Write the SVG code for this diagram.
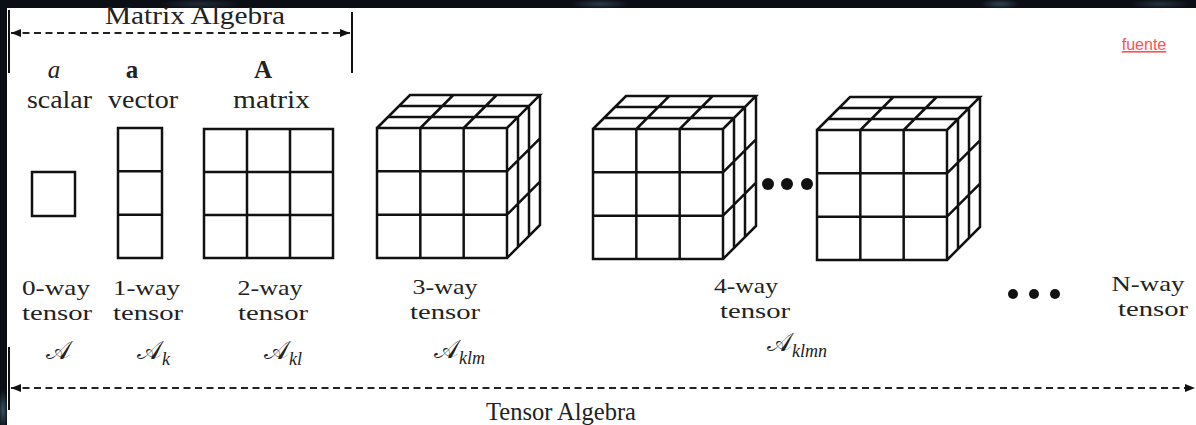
<svg xmlns="http://www.w3.org/2000/svg" width="1196" height="425" viewBox="0 0 1196 425">
<style>
.t{font-family:"Liberation Serif","Times New Roman",serif;font-size:25px;fill:#222;text-anchor:middle}
.w{font-size:21.5px}
.cal{font-family:"DejaVu Serif","DejaVu Sans","Noto Sans",serif;font-size:26px;fill:#222}
.sub{font-family:"Liberation Serif",serif;font-style:italic;font-size:18px;fill:#222}
.cube{fill:#fff;stroke:#111;stroke-width:2.5;stroke-linejoin:miter}
.cell{fill:#fff;stroke:#111;stroke-width:2.5}
.dash{stroke:#222;stroke-width:2;stroke-dasharray:7 4.5;fill:none}
.bar{stroke:#111;stroke-width:2}
.dot{fill:#111}
</style>
<defs>
<marker id="ah" viewBox="0 0 10 8" refX="10" refY="4" markerWidth="11" markerHeight="8" markerUnits="userSpaceOnUse" orient="auto-start-reverse">
<path d="M0 0L10 4L0 8Z" fill="#111"/>
</marker>
<radialGradient id="glow" cx="0.5" cy="0.5" r="0.5">
<stop offset="0" stop-color="#4a6a7a" stop-opacity="0.8"/>
<stop offset="1" stop-color="#4a6a7a" stop-opacity="0"/>
</radialGradient>
<path id="cubeShape" class="cube" d="M0 0H130V130H0Z M43.33 0V130 M86.67 0V130 M0 43.33H130 M0 86.67H130 M0 0L33 -33H163L130 0 M11 -11H141 M22 -22H152 M43.33 0L76.33 -33 M86.67 0L119.67 -33 M130 130L163 97V-33 M141 -11V119 M152 -22V108 M130 43.33L163 10.33 M130 86.67L163 53.67"/>
</defs>
<rect width="1196" height="425" fill="#fff"/>
<g id="background">
<rect x="0" y="0" width="1196" height="8" fill="#0c0e16"/>
<rect x="0" y="0" width="7" height="425" fill="#0c0e16"/>
<ellipse cx="200" cy="4" rx="40" ry="5" fill="url(#glow)" opacity="0.4"/>
<ellipse cx="600" cy="4" rx="30" ry="5" fill="url(#glow)" opacity="0.6"/>
<ellipse cx="1000" cy="4" rx="20" ry="5" fill="url(#glow)" opacity="0.7"/>
<ellipse cx="1160" cy="4" rx="30" ry="5" fill="url(#glow)" opacity="0.5"/>
<ellipse cx="3" cy="410" rx="5" ry="20" fill="url(#glow)" opacity="0.9"/>
</g>
<g id="connectors">
<line class="bar" x1="9" y1="10" x2="9" y2="73"/>
<line class="bar" x1="352" y1="12" x2="352" y2="73"/>
<line class="dash" x1="11" y1="33" x2="350" y2="33" marker-start="url(#ah)" marker-end="url(#ah)"/>
<line class="bar" x1="9" y1="347" x2="9" y2="410"/>
<line class="dash" x1="11" y1="388" x2="1195" y2="388" marker-start="url(#ah)" marker-end="url(#ah)"/>
</g>
<g id="matrix-algebra-label"><text class="t" x="195" y="24" textLength="180" lengthAdjust="spacingAndGlyphs">Matrix Algebra</text></g>
<g id="tensor-algebra-label"><text class="t" x="561" y="420" textLength="150" lengthAdjust="spacingAndGlyphs">Tensor Algebra</text></g>
<a href="#"><text x="1144" y="50" font-family="'Liberation Sans',Arial,sans-serif" font-size="16" fill="#ff4f4f" text-anchor="middle" text-decoration="underline">fuente</text></a>
<g id="scalar">
<text class="t" x="54" y="78" font-style="italic">a</text>
<text class="t" x="59.5" y="108" textLength="65" lengthAdjust="spacingAndGlyphs">scalar</text>
<rect class="cell" x="32" y="172" width="43" height="44"/>
<text class="t w" x="56" y="295" textLength="68" lengthAdjust="spacingAndGlyphs">0-way</text>
<text class="t w" x="57" y="320" textLength="70" lengthAdjust="spacingAndGlyphs">tensor</text>
<text class="cal" x="46" y="359">𝒜</text>
</g>
<g id="vector">
<text class="t" x="132" y="78" font-weight="bold">a</text>
<text class="t" x="143" y="108" textLength="70" lengthAdjust="spacingAndGlyphs">vector</text>
<rect class="cell" x="118" y="128" width="44" height="130"/>
<path class="cell" d="M118 171.3H162M118 214.7H162"/>
<text class="t w" x="146.5" y="295" textLength="67" lengthAdjust="spacingAndGlyphs">1-way</text>
<text class="t w" x="148" y="320" textLength="70" lengthAdjust="spacingAndGlyphs">tensor</text>
<text class="cal" x="137" y="359">𝒜</text><text class="sub" x="162" y="365">k</text>
</g>
<g id="matrix">
<text class="t" x="263" y="78" font-weight="bold">A</text>
<text class="t" x="271.5" y="108" textLength="77" lengthAdjust="spacingAndGlyphs">matrix</text>
<rect class="cell" x="204" y="129" width="129" height="129"/>
<path class="cell" d="M247 129V258M290 129V258M204 172H333M204 215H333"/>
<text class="t w" x="270" y="295" textLength="65" lengthAdjust="spacingAndGlyphs">2-way</text>
<text class="t w" x="273" y="320" textLength="70" lengthAdjust="spacingAndGlyphs">tensor</text>
<text class="cal" x="264" y="359">𝒜</text><text class="sub" x="289" y="365">kl</text>
</g>
<g id="tensor3">
<use href="#cubeShape" x="377" y="128"/>
<text class="t w" x="445" y="294" textLength="65" lengthAdjust="spacingAndGlyphs">3-way</text>
<text class="t w" x="445" y="319" textLength="70" lengthAdjust="spacingAndGlyphs">tensor</text>
<text class="cal" x="434" y="358">𝒜</text><text class="sub" x="459" y="364">klm</text>
</g>
<g id="tensor4">
<use href="#cubeShape" x="593" y="129"/>
<circle class="dot" cx="768" cy="184" r="6"/>
<circle class="dot" cx="787" cy="184" r="6"/>
<circle class="dot" cx="807" cy="184" r="6"/>
<use href="#cubeShape" x="817" y="130"/>
<text class="t w" x="746" y="293" textLength="64" lengthAdjust="spacingAndGlyphs">4-way</text>
<text class="t w" x="755" y="318" textLength="70" lengthAdjust="spacingAndGlyphs">tensor</text>
<text class="cal" x="767" y="351">𝒜</text><text class="sub" x="792" y="357">klmn</text>
</g>
<g id="ellipsis">
<circle class="dot" cx="1013" cy="294" r="5"/>
<circle class="dot" cx="1034" cy="294" r="5"/>
<circle class="dot" cx="1055" cy="294" r="5"/>
</g>
<g id="tensorN">
<text class="t w" x="1148" y="291" textLength="73" lengthAdjust="spacingAndGlyphs">N-way</text>
<text class="t w" x="1153" y="316" textLength="70" lengthAdjust="spacingAndGlyphs">tensor</text>
</g>
</svg>
